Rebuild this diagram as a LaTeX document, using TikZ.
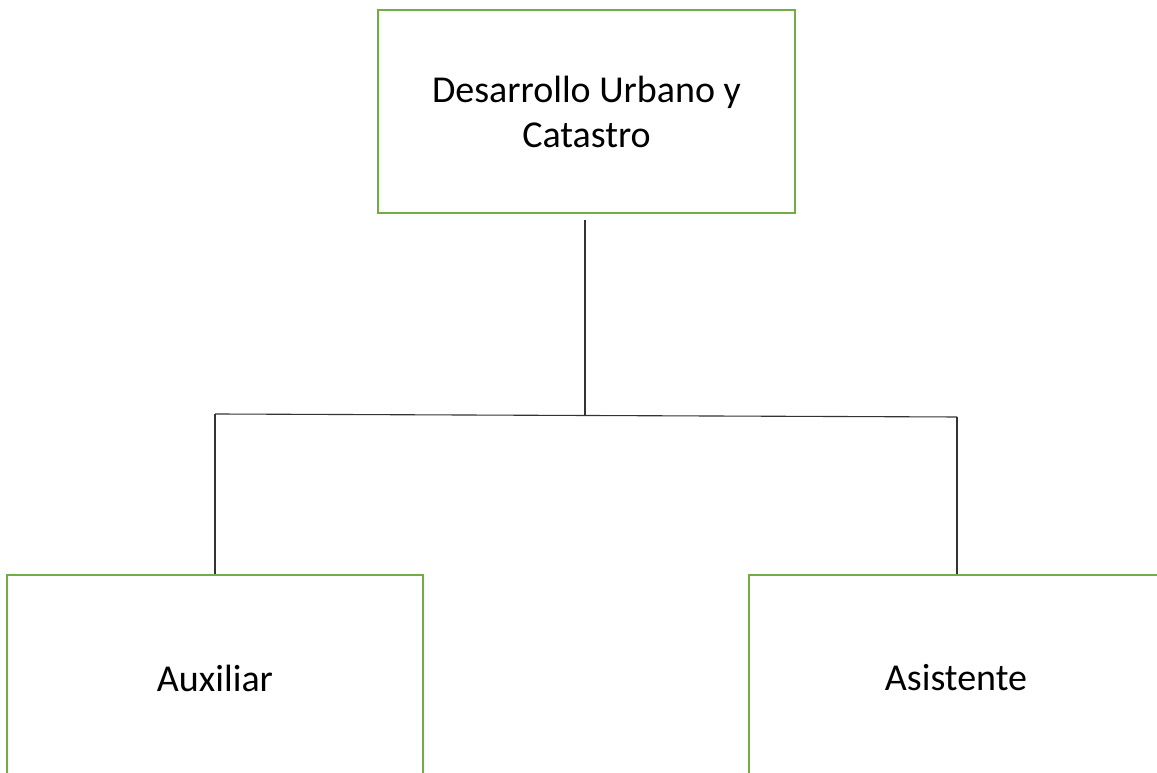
\documentclass[tikz,border=0pt]{standalone}
\usepackage{fontspec}
\setmainfont{Carlito}
\definecolor{boxgreen}{HTML}{70AD47}
\begin{document}
\begin{tikzpicture}[x=1pt,y=1pt,
  orgbox/.style={draw=boxgreen, line width=1.5pt, rectangle, inner sep=0pt,
    align=center, font=\fontsize{38}{45}\selectfont},
  link/.style={draw=black!80, line width=1.1pt}]
\useasboundingbox (0,0) rectangle (1157,773);
\clip (0,0) rectangle (1157,773);
\fill[white] (0,0) rectangle (1157,773);
\node[orgbox, minimum width=417pt, minimum height=203pt] (top) at (586.5,661.5) {Desarrollo Urbano y\\Catastro};
\node[orgbox, minimum width=416pt, minimum height=206pt] (aux) at (215,95) {Auxiliar};
\node[orgbox, minimum width=414pt, minimum height=206pt] (asis) at (956,95) {Asistente};
\coordinate (c1) at (585,553);
\coordinate (c2) at (585,357);
\coordinate (hl) at (215,359);
\coordinate (hr) at (957,356);
\draw[link] (c1) -- (c2);
\draw[link] (hl) -- (hr);
\draw[link] (hl) -- (hl |- aux.north);
\draw[link] (hr) -- (hr |- asis.north);
\end{tikzpicture}
\end{document}
